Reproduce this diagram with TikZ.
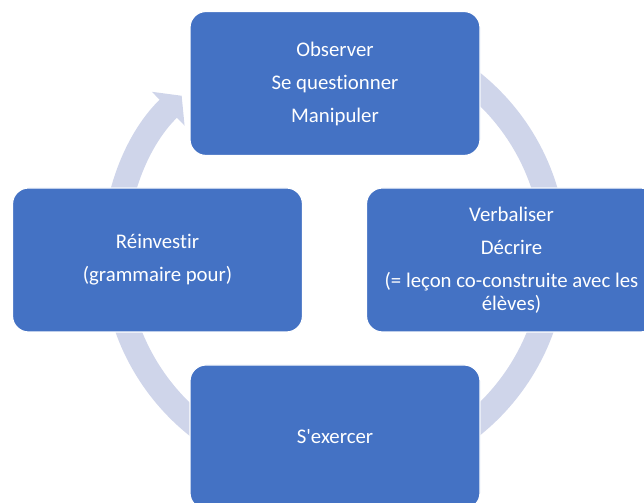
\documentclass[tikz,border=0pt]{standalone}
\usepackage{fontspec}
\setmainfont{Carlito}[Ligatures={TeX,NoCommon}]
\usepackage{tikz}
\usetikzlibrary{arrows.meta}
\definecolor{stepblue}{HTML}{4472C4}
\definecolor{ringlav}{HTML}{CFD5EA}

\begin{document}
\begin{tikzpicture}[x=0.75pt,y=0.75pt]
% Cycle style
\tikzset{
    etape/.style={rectangle, rounded corners=12pt, fill=stepblue, draw=white,
        line width=0.9pt, minimum width=217.5pt, minimum height=108pt,
        inner sep=0pt, text=white, align=center,
        font=\fontsize{15.6}{17.25}\selectfont},
    anneau/.style={draw=ringlav, line width=18.75pt}
}
\useasboundingbox (0,0) rectangle (644,503);
\clip (0,0) rectangle (644,503);
% Ring
\coordinate (Centre) at (334.5,249);
\draw[anneau,-{Triangle[length=14pt,width=34.5pt]}] (Centre) ++(95:220)
    arc[start angle=95,end angle=-226,radius=220];
% Steps
\node[etape] (Obs) at (335,419.5) {Observer\\[7.5pt]Se questionner\\[7.5pt]Manipuler};
\node[etape] (Verb) at (511.5,243) {Verbaliser\\[7.5pt]D\'ecrire\\[7.5pt](= le\c{c}on co-construite avec les\\\'el\`eves)};
\node[etape] (Exer) at (335,66) {S\textquotesingle exercer};
\node[etape] (Reinv) at (157.5,243) {R\'einvestir\\[7.5pt](grammaire pour)};
\end{tikzpicture}
\end{document}
